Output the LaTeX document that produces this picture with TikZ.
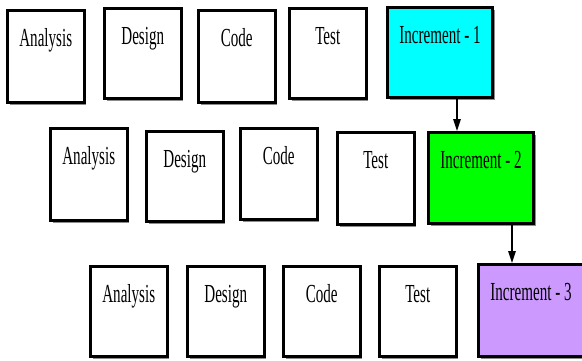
\documentclass[tikz,border=0pt]{standalone}
\usepackage{fontspec}
\setmainfont{Liberation Serif}
\newfontfamily\condensed[FakeStretch=0.58]{Liberation Serif}
\usetikzlibrary{arrows.meta,shadows}

\definecolor{incA}{RGB}{0,255,255}
\definecolor{incB}{RGB}{0,255,0}
\definecolor{incC}{RGB}{204,153,255}

\tikzset{
  % phase box: outer top-left corner given by the node position,
  % label baseline sits 37pt below the outer top edge
  stage/.style={draw=black, fill=white, line width=3pt,
    anchor=north west, inner xsep=0pt, inner ysep=0pt,
    text height=35.5pt, text depth=#1,
    drop shadow={shadow xshift=2pt, shadow yshift=-2pt, fill=black!45, opacity=1},
    font=\condensed\fontsize{26}{30}\selectfont},
  phase/.style={minimum width=76.5pt},
  incr/.style={minimum width=105pt},
  flow/.style={line width=1.5pt, -{Triangle[length=12pt,width=7.5pt]}}
}

\begin{document}
\begin{tikzpicture}[x=1pt,y=-1pt]
\fill[white] (0,0) rectangle (582,360);
\useasboundingbox (0,0) rectangle (582,360);

% first increment
\node[stage=56.5pt, phase] (a1) at (6,9)   {Analysis};
\node[stage=54.5pt, phase] (d1) at (103,7) {Design};
\node[stage=56.5pt, phase] (c1) at (197,9) {Code};
\node[stage=54.5pt, phase] (t1) at (288,7) {Test};
\node[stage=54.5pt, incr, fill=incA] (i1) at (386,6) {Increment - 1};

% second increment
\node[stage=56.5pt, phase] (a2) at (49,127)  {Analysis};
\node[stage=54.5pt, phase] (d2) at (145,130) {Design};
\node[stage=55.5pt, phase] (c2) at (239,127) {Code};
\node[stage=56.5pt, phase] (t2) at (336,131) {Test};
\node[stage=55.5pt, incr, fill=incB] (i2) at (427,131) {Increment - 2};

% third increment
\node[stage=54.5pt, phase] (a3) at (89,265)  {Analysis};
\node[stage=54.5pt, phase] (d3) at (186,265) {Design};
\node[stage=54.5pt, phase] (c3) at (282,265) {Code};
\node[stage=54.5pt, phase] (t3) at (378,265) {Test};
\node[stage=56.5pt, incr, fill=incC] (i3) at (477,263) {Increment - 3};

% hand-over between increments
\draw[flow] ([xshift=17pt]i1.south) -- ([xshift=17pt]i1.south |- i2.north);
\draw[flow] ([xshift=31pt]i2.south) -- ([xshift=31pt]i2.south |- i3.north);
\end{tikzpicture}
\end{document}
